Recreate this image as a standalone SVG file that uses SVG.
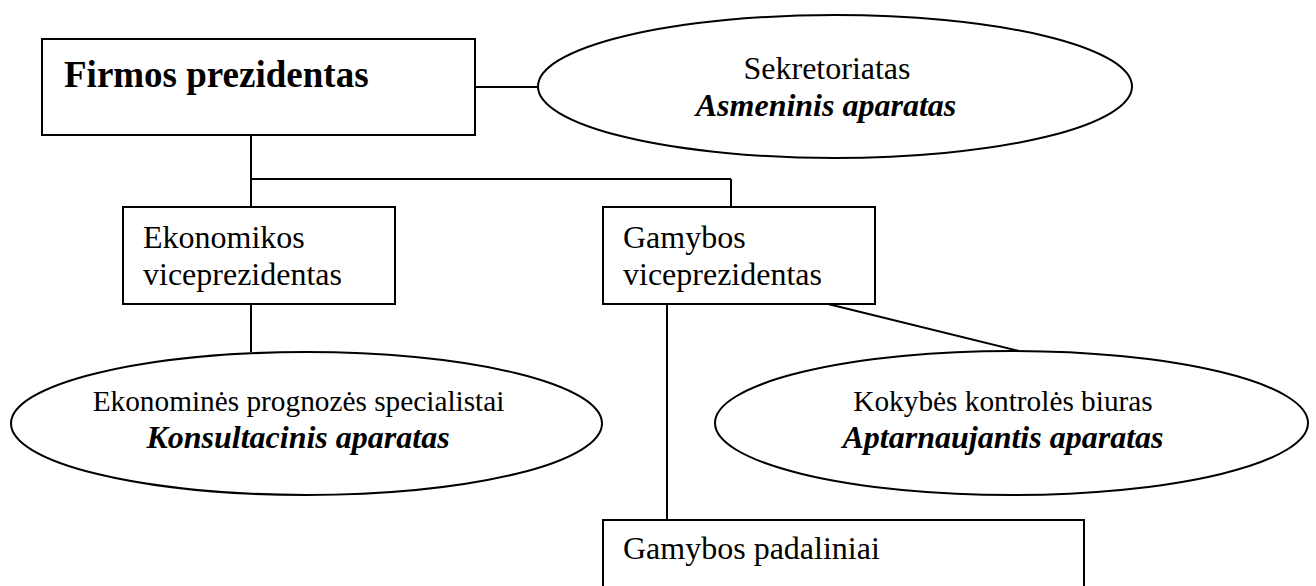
<svg xmlns="http://www.w3.org/2000/svg" width="1316" height="586" viewBox="0 0 1316 586">
  <style>
    .box { fill: #fff; stroke: #000; stroke-width: 2; }
    .oval { fill: #fff; stroke: #000; stroke-width: 2; }
    .link { fill: none; stroke: #000; stroke-width: 2; }
    text { font-family: "Liberation Serif", "Times New Roman", serif; fill: #000; font-size: 32px; }
    .title { font-weight: bold; font-size: 37px; }
    .kind { font-weight: bold; font-style: italic; }
    .small { font-size: 29.3px; }
    .mid { text-anchor: middle; }
  </style>
  <rect width="1316" height="586" fill="#fff"/>

  <!-- connectors -->
  <g id="connectors">
    <line class="link" x1="475" y1="87" x2="538" y2="87"/>
    <line class="link" x1="251" y1="135" x2="251" y2="207"/>
    <line class="link" x1="251" y1="179" x2="731" y2="179"/>
    <line class="link" x1="731" y1="179" x2="731" y2="207"/>
    <line class="link" x1="251" y1="304" x2="251" y2="352"/>
    <line class="link" x1="667" y1="304" x2="667" y2="520"/>
    <line class="link" x1="828" y1="304" x2="1019" y2="351"/>
  </g>

  <g id="president">
    <rect class="box" x="42" y="39" width="433" height="96"/>
    <text class="title" x="64" y="87">Firmos prezidentas</text>
  </g>

  <g id="secretariat">
    <ellipse class="oval" cx="835" cy="86.5" rx="297" ry="71.5"/>
    <text class="mid" x="827" y="79">Sekretoriatas</text>
    <text class="kind mid" x="826" y="116">Asmeninis aparatas</text>
  </g>

  <g id="vp-economics">
    <rect class="box" x="123" y="207" width="272" height="97"/>
    <text x="143" y="248">Ekonomikos</text>
    <text x="143" y="285">viceprezidentas</text>
  </g>

  <g id="vp-production">
    <rect class="box" x="603" y="207" width="272" height="97"/>
    <text x="623" y="248">Gamybos</text>
    <text x="623" y="285">viceprezidentas</text>
  </g>

  <g id="forecasting">
    <ellipse class="oval" cx="306.5" cy="423.5" rx="295.5" ry="71.5"/>
    <text class="small mid" x="298.5" y="411">Ekonominės prognozės specialistai</text>
    <text class="kind mid" x="298" y="448">Konsultacinis aparatas</text>
  </g>

  <g id="quality-control">
    <ellipse class="oval" cx="1011.5" cy="423" rx="296.5" ry="72"/>
    <text class="small mid" x="1003" y="411">Kokybės kontrolės biuras</text>
    <text class="kind mid" x="1003" y="448">Aptarnaujantis aparatas</text>
  </g>

  <g id="production-units">
    <rect class="box" x="603" y="520" width="481" height="90"/>
    <text x="623" y="559">Gamybos padaliniai</text>
  </g>
</svg>
